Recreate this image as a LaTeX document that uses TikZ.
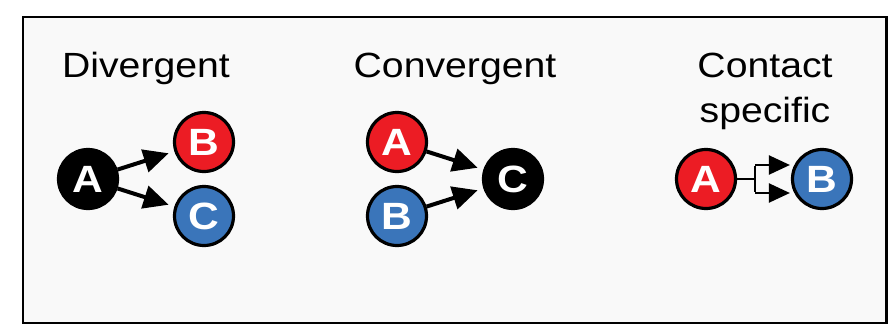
\documentclass[tikz,border=0pt]{standalone}
\usepackage{fontspec}
\setmainfont{Liberation Sans}
\usetikzlibrary{arrows.meta}
\definecolor{nodered}{RGB}{236,28,36}
\definecolor{nodeblue}{RGB}{58,117,186}
\definecolor{panelgray}{RGB}{249,249,249}
\newcommand{\widetext}[1]{\scalebox{1.12}[1]{#1}}
\tikzset{
  ball/.style={circle, draw=black, line width=3.2pt, minimum size=59pt, inner sep=0pt,
    text=white, font=\fontsize{38}{42}\selectfont\bfseries},
  title/.style={font=\fontsize{35}{45}\selectfont, anchor=base, align=center},
  link/.style={line width=4pt, -{Triangle[length=25pt,width=23pt]}, shorten >=6pt},
}

\begin{document}
\begin{tikzpicture}[x=1pt, y=-1pt]
        \fill[white] (0,0) rectangle (888,327);
        \useasboundingbox (0,0) rectangle (888,327);

        % Panel frame
        \draw[line width=2.5pt, fill=panelgray] (23,17) rectangle (886.5,323);

        % Divergent
        \node[title] (divT) at (146,77) {\widetext{Divergent}};
        \node[ball, fill=black] (dA) at (88,179) {\widetext{A}};
        \node[ball, fill=nodered] (dB) at (204,142) {\widetext{B}};
        \node[ball, fill=nodeblue] (dC) at (204,216) {\widetext{C}};
        \draw[link] (dA) -- (dB);
        \draw[link] (dA) -- (dC);

        % Convergent
        \node[title] (conT) at (455,77) {\widetext{Convergent}};
        \node[ball, fill=nodered] (vA) at (397,142) {\widetext{A}};
        \node[ball, fill=nodeblue] (vB) at (397,216) {\widetext{B}};
        \node[ball, fill=black] (vC) at (513,179) {\widetext{C}};
        \draw[link] (vA) -- (vC);
        \draw[link] (vB) -- (vC);

        % Contact specific (base = last line)
        \node[title] (ctsT) at (765,122) {\widetext{Contact}\\\widetext{specific}};
        \node[ball, fill=nodered] (cA) at (706,179) {\widetext{A}};
        \node[ball, fill=nodeblue] (cB) at (822,179) {\widetext{B}};
        \coordinate (fork) at (755,179);
        \coordinate (forkT) at (755,165);
        \coordinate (forkB) at (755,193);
        \draw[line width=2.2pt] (cA) -- (fork);
        \draw[line width=2.2pt] ([yshift=-1.1pt]forkT) -- ([yshift=1.1pt]forkB);
        \foreach \f in {forkT, forkB} {
            \draw[line width=2.2pt, -{Triangle[length=21pt,width=19pt]}, shorten >=1pt] (\f) -- (\f -| cB.west);
        }
\end{tikzpicture}
\end{document}
